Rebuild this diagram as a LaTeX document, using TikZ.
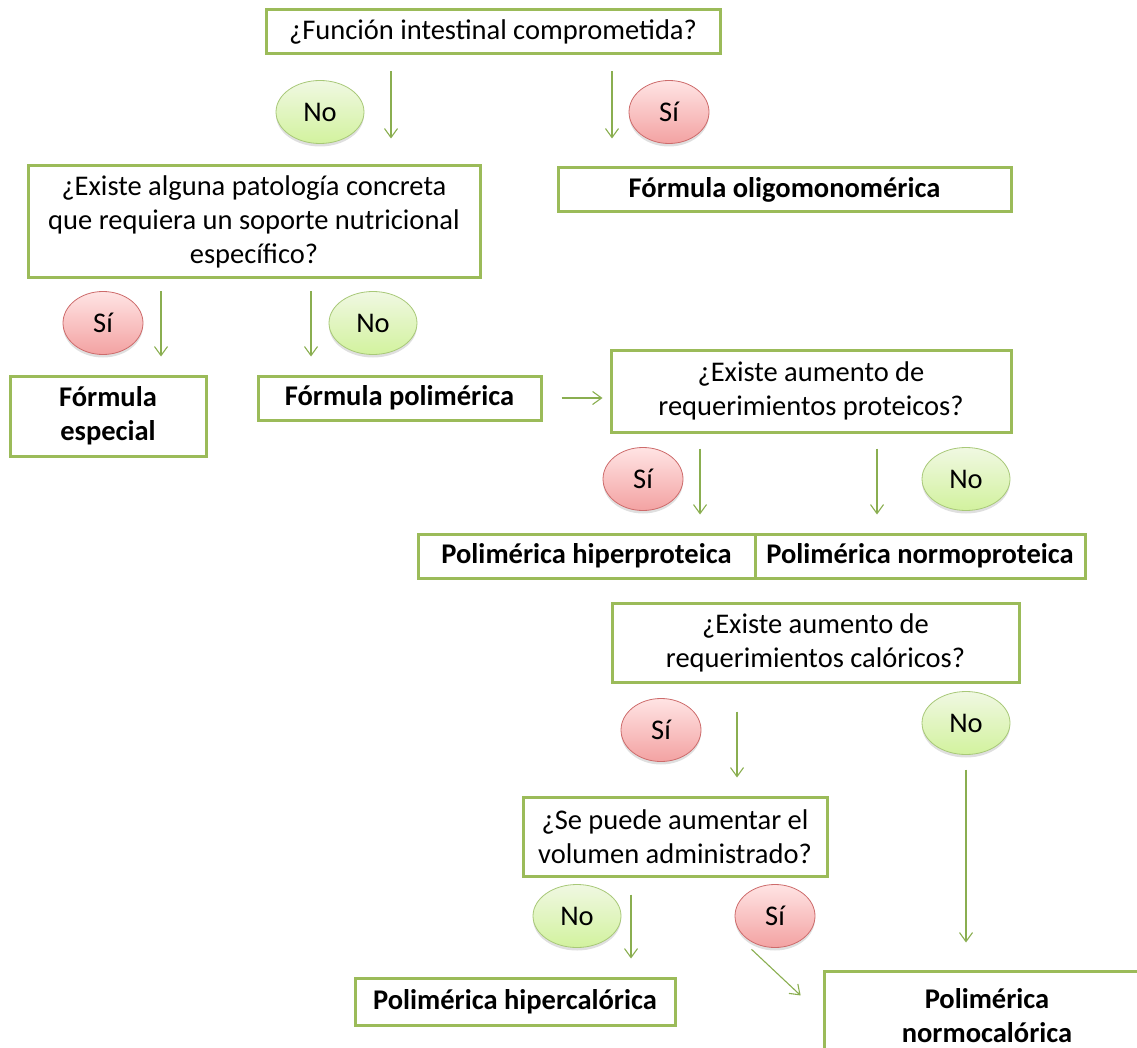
\documentclass[tikz,border=0pt]{standalone}
\usepackage{fontspec}
\setmainfont{Carlito}
\usetikzlibrary{arrows.meta, positioning, shapes.geometric, shadows}
\definecolor{verde}{HTML}{9BBB59}
\definecolor{verdeFlecha}{HTML}{8AAE50}
\definecolor{verdeClaro}{HTML}{F0F8E2}
\definecolor{verdeOscuro}{HTML}{D2F29E}
\definecolor{verdeBorde}{HTML}{A8C878}
\definecolor{rojoClaro}{HTML}{FFE4E4}
\definecolor{rojoOscuro}{HTML}{F3A2A2}
\definecolor{rojoBorde}{HTML}{CD6B6B}

\begin{document}
\begin{tikzpicture}[
            x=1pt, y=-1pt,
            font=\fontsize{28.5}{34}\selectfont,
            box/.style={rectangle, draw=verde, line width=3pt, fill=white, align=center, inner sep=0pt},
            result/.style={box, font=\fontsize{28.5}{34}\selectfont\bfseries},
            arrow/.style={-{Straight Barb[length=9pt, width=13pt]}, draw=verdeFlecha, line width=1.1pt},
            answer/.style={ellipse, line width=0.8pt, inner sep=0pt, minimum height=63pt,
                drop shadow={shadow xshift=0pt, shadow yshift=-3pt, opacity=0.25}},
            answerSi/.style={answer, draw=rojoBorde, top color=rojoClaro, bottom color=rojoOscuro, minimum width=80pt},
            answerNo/.style={answer, draw=verdeBorde, top color=verdeClaro, bottom color=verdeOscuro, minimum width=88pt}
        ]
            \useasboundingbox (0,0) rectangle (1137,1048);

            % preguntas y resultados
            \node[box, minimum width=454pt, minimum height=44pt] (q_funcion) at (493,32) {¿Función intestinal comprometida?};
            \node[result, minimum width=453pt, minimum height=44pt] (r_oligo) at (784.5,190) {Fórmula oligomonomérica};
            \node[box, minimum width=452pt, minimum height=112pt] (q_patologia) at (254,222) {¿Existe alguna patología concreta\\que requiera un soporte nutricional\\específico?};
            \node[result, minimum width=196pt, minimum height=80pt] (r_especial) at (108,416) {Fórmula\\especial};
            \node[result, minimum width=283pt, minimum height=44pt] (r_polimerica) at (399.5,398) {Fórmula polimérica};
            \node[box, minimum width=400pt, minimum height=82pt] (q_proteicos) at (811,391) {¿Existe aumento de\\requerimientos proteicos?};
            \node[result, minimum width=337pt, minimum height=44pt] (r_hiperprot) at (586.5,556) {Polimérica hiperproteica};
            \node[result, minimum width=330pt, minimum height=44pt] (r_normoprot) at (920,556) {Polimérica normoproteica};
            \node[box, minimum width=407pt, minimum height=79pt] (q_caloricos) at (815.5,642.5) {¿Existe aumento de\\requerimientos calóricos?};
            \node[box, minimum width=304pt, minimum height=79pt] (q_volumen) at (675,836.5) {¿Se puede aumentar el\\volumen administrado?};
            \node[result, minimum width=320pt, minimum height=47pt] (r_hipercal) at (515,1001.5) {Polimérica hipercalórica};
            \node[result, minimum width=326pt, minimum height=90pt] (r_normocal) at (987,1016) {Polimérica\\normocalórica};

            % respuestas
            \node[answerNo] (no_1) at (320,112) {No};
            \node[answerSi] (si_1) at (669,112) {Sí};
            \node[answerSi] (si_2) at (103,323) {Sí};
            \node[answerNo] (no_2) at (373,323) {No};
            \node[answerSi] (si_3) at (643,479) {Sí};
            \node[answerNo] (no_3) at (966,479) {No};
            \node[answerSi] (si_4) at (661,730) {Sí};
            \node[answerNo] (no_4) at (966,723) {No};
            \node[answerNo] (no_5) at (577,916) {No};
            \node[answerSi] (si_5) at (775,916) {Sí};

            % columnas de las flechas
            \coordinate (x_1) at (391,0);
            \coordinate (x_2) at (612,0);
            \coordinate (x_3) at (161,0);
            \coordinate (x_4) at (311,0);
            \coordinate (x_5) at (700,0);
            \coordinate (x_6) at (877,0);
            \coordinate (x_7) at (737,0);
            \coordinate (x_8) at (966,0);
            \coordinate (x_9) at (631,0);

            \draw[arrow, shorten <=16pt, shorten >=26pt] (q_funcion.south -| x_1) -- (q_patologia.north -| x_1);
            \draw[arrow, shorten <=16pt, shorten >=28pt] (q_funcion.south -| x_2) -- (r_oligo.north -| x_2);
            \draw[arrow, shorten <=12pt, shorten >=18pt] (q_patologia.south -| x_3) -- (r_especial.north -| x_3);
            \draw[arrow, shorten <=12pt, shorten >=18pt] (q_patologia.south -| x_4) -- (r_polimerica.north -| x_4);
            \draw[arrow, shorten <=19pt, shorten >=7pt] (r_polimerica.east) -- (r_polimerica.east -| q_proteicos.west);
            \draw[arrow, shorten <=15pt, shorten >=18pt] (q_proteicos.south -| x_5) -- (r_hiperprot.north -| x_5);
            \draw[arrow, shorten <=15pt, shorten >=18pt] (q_proteicos.south -| x_6) -- (r_normoprot.north -| x_6);
            \draw[arrow, shorten <=28pt, shorten >=18pt] (q_caloricos.south -| x_7) -- (q_volumen.north -| x_7);
            \draw[arrow, shorten <=86pt, shorten >=27pt] (q_caloricos.south -| x_8) -- (r_normocal.north -| x_8);
            \draw[arrow, shorten <=17pt, shorten >=18pt] (q_volumen.south -| x_9) -- (r_hipercal.north -| x_9);
            \draw[arrow, shorten <=105pt, shorten >=30pt] (q_volumen.south) -- (r_normocal.west);
        \end{tikzpicture}
\end{document}
